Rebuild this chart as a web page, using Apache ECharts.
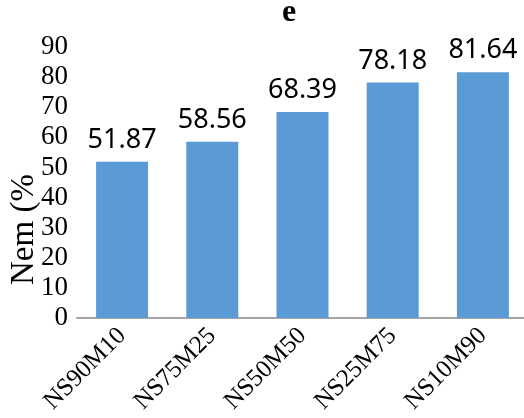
<!DOCTYPE html>
<html>
<head>
<meta charset="utf-8">
<script src="https://cdn.jsdelivr.net/npm/echarts@6/dist/echarts.min.js"></script>
<style>
  html, body { margin: 0; padding: 0; background: #fff; }
  #chart { width: 524px; height: 418px; }
</style>
</head>
<body>
<div id="chart"></div>
<script>
// Blend ratios and measured Nem values
const categories = ['NS90M10', 'NS75M25', 'NS50M50', 'NS25M75', 'NS10M90'];
const nemValues = [51.87, 58.56, 68.39, 78.18, 81.64];
const yTicks = { min: 0, max: 90, interval: 10 };
const yAxisTitle = 'Nem (%)';

const chart = echarts.init(document.getElementById('chart'), null, { renderer: 'canvas' });

chart.setOption({
  animation: false,
  backgroundColor: '#ffffff',
  title: {
    text: 'e',
    left: 284,
    top: -8,
    textAlign: 'center',
    textStyle: {
      fontFamily: 'Liberation Serif',
      fontWeight: 'bold',
      fontSize: 32,
      color: '#000'
    }
  },
  grid: {
    left: 77,
    top: 47,
    width: 451,
    height: 271,
    containLabel: false,
    outerBoundsMode: 'none'
  },
  xAxis: {
    type: 'category',
    data: categories,
    axisLine: { lineStyle: { color: '#a6a6a6', width: 2 } },
    axisTick: { show: false },
    axisLabel: {
      rotate: 45,
      margin: 14,
      interval: 0,
      fontFamily: 'Liberation Serif',
      fontSize: 25,
      color: '#000'
    }
  },
  yAxis: {
    type: 'value',
    min: yTicks.min,
    max: yTicks.max,
    interval: yTicks.interval,
    axisLine: { show: false },
    axisTick: { show: false },
    splitLine: { show: false },
    axisLabel: {
      margin: 9,
      fontFamily: 'Liberation Serif',
      fontSize: 27,
      color: '#000'
    }
  },
  // Vertical axis title, cut short so the closing bracket stays hidden
  graphic: [{
    type: 'text',
    x: 24,
    y: 285,
    rotation: Math.PI / 2,
    style: {
      text: yAxisTitle,
      width: 118,
      overflow: 'truncate',
      ellipsis: '',
      fontFamily: 'Liberation Serif',
      fontSize: 33,
      fill: '#000',
      textAlign: 'left',
      textVerticalAlign: 'middle'
    }
  }],
  series: [{
    type: 'bar',
    data: nemValues,
    barWidth: 52,
    itemStyle: { color: '#5b9bd5' },
    label: {
      show: true,
      position: 'top',
      distance: 8,
      fontFamily: 'Noto Sans',
      fontSize: 27,
      color: '#000',
      formatter: (p) => p.value.toFixed(2)
    }
  }]
});
</script>
</body>
</html>
